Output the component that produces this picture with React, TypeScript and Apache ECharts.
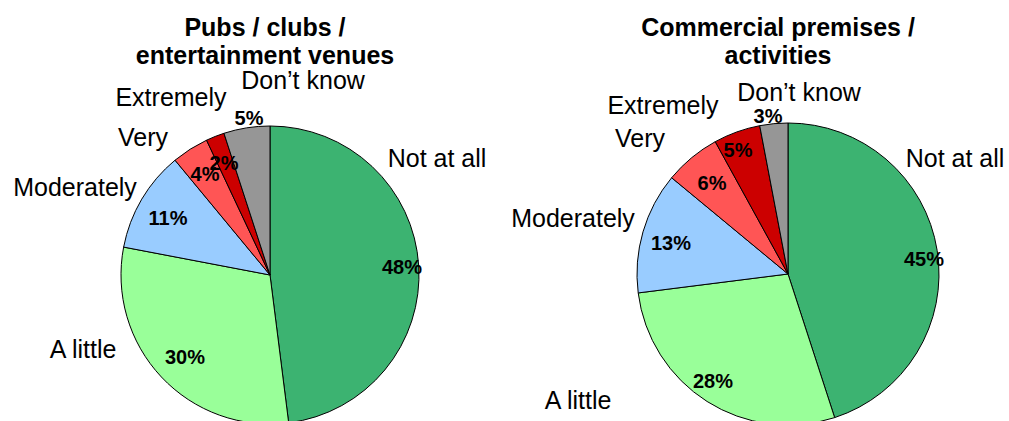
import React, { useEffect, useRef } from 'react';
import * as echarts from 'echarts';

const categories = ['Not at all', 'A little', 'Moderately', 'Very', 'Extremely', 'Don’t know'];
const pubsValues = [48, 30, 11, 4, 2, 5];
const commercialValues = [45, 28, 13, 6, 5, 3];
const titles = ['Pubs / clubs /\nentertainment venues', 'Commercial premises /\nactivities'];

const colors = ['#3CB371', '#99FF99', '#99CCFF', '#FF5555', '#CC0000', '#969696'];
const FONT = '"Liberation Sans", Arial, sans-serif';

const centers = [[270, 275], [788, 274]];
const radii = [149, 151];
const titleX = [265, 778];
const pctPos = [
  [[402, 267], [185, 357], [168, 218], [205, 174], [224, 163], [249, 118]],
  [[924, 259], [713, 381], [671, 243], [712, 183], [738, 150], [768, 116]],
];
const namePos = [
  [[437, 158], [83, 349], [75, 187], [143, 137], [171, 97], [303, 80]],
  [[955, 158], [578, 400], [573, 218], [640, 138], [663, 105], [799, 92]],
];

export default function App() {
  const ref = useRef<HTMLDivElement>(null);
  useEffect(() => {
    if (!ref.current) return;
    const chart = echarts.init(ref.current, undefined, { renderer: 'svg' });
    const seriesData = [pubsValues, commercialValues];
    const series = seriesData.map((vals, si) => ({
      type: 'pie',
      center: centers[si],
      radius: radii[si],
      startAngle: 90,
      clockwise: true,
      silent: true,
      data: vals.map((v, i) => ({ name: categories[i], value: v, itemStyle: { color: colors[i] } })),
      itemStyle: { borderColor: '#000', borderWidth: 1 },
      label: {
        show: true,
        position: 'inside',
        formatter: (p: any) => `${p.value}%`,
        fontFamily: FONT,
        fontSize: 20,
        fontWeight: 'bold',
        color: '#000',
      },
      labelLine: { show: false },
      labelLayout: (p: any) => ({
        x: pctPos[si][p.dataIndex][0],
        y: pctPos[si][p.dataIndex][1],
        align: 'center',
        verticalAlign: 'middle',
      }),
    }));
    const graphics: any[] = [];
    namePos.forEach((arr, si) => {
      arr.forEach((pos, i) => {
        graphics.push({
          type: 'text',
          x: pos[0],
          y: pos[1],
          style: {
            text: categories[i],
            fill: '#000',
            fontSize: 25,
            fontFamily: FONT,
            align: 'center',
            verticalAlign: 'middle',
          },
        });
      });
    });
    chart.setOption({
      animation: false,
      backgroundColor: '#fff',
      title: titles.map((t, i) => ({
        text: t,
        left: titleX[i],
        top: 13,
        padding: 0,
        textAlign: 'center',
        textStyle: { fontFamily: FONT, fontSize: 25, fontWeight: 'bold', lineHeight: 28, color: '#000' },
      })),
      series,
      graphic: graphics,
    });
    return () => chart.dispose();
  }, []);
  return <div ref={ref} style={{ position: 'fixed', left: 0, top: 0, width: 1009, height: 421 }} />;
}
